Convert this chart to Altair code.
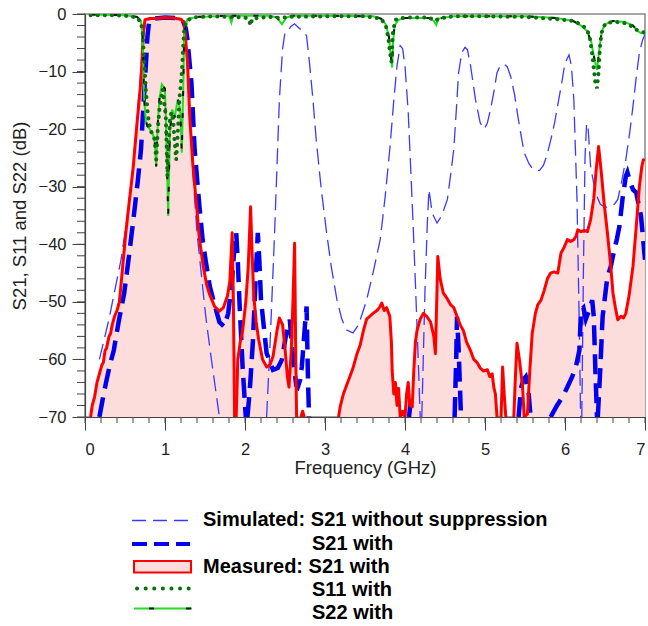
import altair as alt
import pandas as pd

# ---------------- data ----------------
# Measured S21 with suppression (red, filled)
meas_f = [0.07, 0.09, 0.12, 0.15, 0.18, 0.21, 0.23, 0.25, 0.27, 0.30, 0.32, 0.34, 0.37, 0.40, 0.43,
          0.47, 0.51, 0.55, 0.60, 0.65, 0.70, 0.73, 0.75, 0.80, 0.90, 1.00, 1.10, 1.20, 1.24, 1.28,
          1.31, 1.35, 1.39, 1.43, 1.48, 1.52, 1.56, 1.62, 1.68, 1.73, 1.78, 1.81, 1.84, 1.855, 1.87,
          1.89, 1.91, 1.94, 1.97, 2.01, 2.04, 2.07, 2.09, 2.11, 2.14, 2.17, 2.22, 2.27, 2.31, 2.35,
          2.40, 2.43, 2.47, 2.50, 2.53, 2.55, 2.58, 2.60, 2.62, 2.635, 2.645, 2.70, 2.72, 2.74, 3.17,
          3.19, 3.23, 3.27, 3.31, 3.35, 3.40, 3.44, 3.48, 3.52, 3.56, 3.60, 3.65, 3.68, 3.71, 3.74,
          3.77, 3.81, 3.83, 3.84, 3.86, 3.88, 3.90, 3.92, 3.94, 3.97, 4.00, 4.02, 4.04, 4.06, 4.09,
          4.11, 4.13, 4.15, 4.19, 4.23, 4.27, 4.32, 4.36, 4.38, 4.40, 4.41, 4.44, 4.48, 4.53, 4.57,
          4.61, 4.65, 4.69, 4.73, 4.77, 4.82, 4.86, 4.90, 4.94, 4.98, 5.03, 5.06, 5.09, 5.11, 5.13,
          5.15, 5.20, 5.21, 5.22, 5.24, 5.26, 5.36, 5.38, 5.40, 5.43, 5.47, 5.49, 5.53, 5.56, 5.59,
          5.63, 5.66, 5.70, 5.74, 5.78, 5.82, 5.86, 5.91, 5.95, 5.99, 6.03, 6.07, 6.11, 6.14, 6.16,
          6.20, 6.24, 6.28, 6.32, 6.36, 6.39, 6.42, 6.45, 6.49, 6.53, 6.57, 6.60, 6.63, 6.66, 6.70,
          6.73, 6.76, 6.80, 6.85, 6.89, 6.93, 6.96, 6.98, 7.00]
meas_db = [-70, -68, -66.5, -64, -62.5, -61, -60.5, -58.5, -58, -56, -55.5, -54, -52.5, -51.5, -50,
           -44, -38, -33, -27, -19, -11.5, -3, -1, -0.8, -0.8, -0.6, -0.7, -0.9, -1.5, -8,
           -18, -26.5, -32.5, -39, -44, -47, -48.8, -50.8, -51.6, -51, -49, -46.5, -38, -50, -70,
           -70, -60, -57, -55, -50, -44, -33.5, -42, -49, -53.5, -56.5, -60, -61.3, -61, -59.5,
           -55, -52.8, -54, -58, -63, -64.8, -58, -49.7, -39.8, -60, -70, -70, -69, -70, -70,
           -68.2, -66, -64.5, -63, -61.5, -59, -57.5, -55, -53, -52.5, -52, -51.5, -51, -50.2, -51.5,
           -51, -52.5, -57, -62, -66, -64, -68, -65, -70, -69, -70, -66, -64, -68, -68.2,
           -62, -57, -55, -53, -52, -52.5, -53.5, -56, -59, -48, -42.1, -46, -48.5, -49.5, -50.5,
           -51, -52.5, -54, -55, -57, -58.5, -60, -60.5, -61.5, -62, -61.8, -63, -62.5, -64.8, -66,
           -70, -70, -66, -61.3, -66, -70, -70, -63, -57.2, -60, -64.8, -70, -69.5, -62, -55.5,
           -52, -50.5, -49.7, -48, -46, -45, -44.8, -45, -41.5, -40.5, -39.2, -39.5, -39.2, -38.5, -37.5,
           -37.8, -37.6, -37.8, -35.7, -32, -27, -23, -27, -33, -38, -43.5, -48.5, -51, -53.1, -52.5,
           -52.8, -52, -49, -43.8, -37, -29.9, -26.5, -25.3, -25.5]

# Simulated S21 without suppression (thin dashed); None marks a break in the curve
sim0_f = [0.18, 0.24, 0.30, 0.38, 0.45, 0.52, 0.58, 0.64, 0.69, 0.73, 0.76, 0.85, 1.00, 1.15, 1.22,
          1.26, 1.30, 1.35, 1.40, 1.46, 1.51, 1.57, 1.64, 1.68, None,
          2.27, 2.31, 2.37, 2.43, 2.47, 2.50, 2.54, 2.57, 2.62, 2.68, 2.73, 2.77, 2.81, 2.85, 2.89,
          2.95, 3.02, 3.08, 3.15, 3.21, 3.27, 3.35, 3.42, 3.52, 3.60, 3.69, 3.75, 3.81, 3.86, 3.90,
          3.94, 3.97, 4.00, 4.04, 4.07, 4.10, 4.13, 4.16, 4.19, None,
          4.21, 4.25, 4.28, 4.30, 4.34, 4.40, 4.46, 4.53, 4.57, 4.61, 4.64, 4.67, 4.71, 4.75, 4.78,
          4.82, 4.88, 4.94, 4.99, 5.03, 5.07, 5.11, 5.15, 5.19, 5.24, 5.28, 5.32, 5.37, 5.41, 5.45,
          5.49, 5.55, 5.60, 5.68, 5.73, 5.77, 5.82, 5.87, 5.92, 5.96, 6.00, 6.05, 6.08, 6.11, 6.15,
          6.18, 6.195, None,
          6.21, 6.23, 6.25, 6.27, 6.29, 6.32, 6.38, 6.44, 6.50, 6.56, 6.62, 6.66, 6.71, 6.76, 6.81,
          6.85, 6.89, 6.93, 6.97, 7.00]
sim0_db = [-60, -56.5, -53, -47.5, -42.7, -36, -29, -20, -11, -4, -1.2, -0.8, -0.6, -0.8, -1.2,
           -5, -14, -28, -38, -46, -52.6, -59, -66, -70, None,
           -70, -58.4, -38, -14.8, -6, -3.2, -3.0, -2.2, -1.7, -2.5, -3.0, -3.8, -9, -15, -21.8,
           -30, -38, -44, -49.7, -53, -54.9, -55.4, -54, -49.7, -45, -39.2, -32, -23.5, -15, -9,
           -5.5, -6, -9, -17, -26.4, -36, -46.7, -58, -70, None,
           -70, -48, -36, -30.5, -34.6, -36.3, -35, -32.2, -28, -23.5, -17, -10.2, -6.7, -5.8, -6.2,
           -9, -14.8, -18.9, -20, -18.9, -16.5, -13.6, -10.2, -9, -8.7, -9.2, -10.8, -14, -17.7, -21,
           -24.1, -26, -27, -27.2, -26.3, -24.7, -22, -18.9, -15, -11.9, -8.5, -7.1, -9, -14.8, -32.2,
           -55.4, -70, None,
           -70, -45, -25, -19, -20, -26.5, -31, -33, -33.6, -33.5, -33, -32.2, -29, -25.3, -20.5,
           -16, -11, -6.7, -4.5, -3.5]

# Simulated S21 with suppression (thick dashed)
sim1_f = [0.18, 0.22, 0.26, 0.31, 0.36, 0.42, 0.49, 0.55, 0.61, 0.66, 0.70, 0.73, 0.76, 0.78, 0.80,
          0.85, 1.00, 1.15, 1.22, 1.26, 1.28, 1.33, 1.37, 1.43, 1.47, 1.51, 1.56, 1.62, 1.68, 1.74,
          1.79, 1.84, 1.87, 1.89, 1.91, 1.93, 1.97, 2.01, None,
          2.03, 2.06, 2.10, 2.14, 2.16, 2.18, 2.20, 2.27, 2.35, 2.41, 2.46, 2.51, 2.56, 2.59, 2.64,
          2.66, 2.69, 2.71, 2.75, 2.77, 2.785, 2.80, None,
          4.05, 4.07, 4.09, None,
          4.62, 4.64, 4.65, 4.67, 4.70, None,
          5.42, 5.45, 5.48, 5.51, 5.54, 5.57, None,
          5.82, 5.90, 5.97, 6.03, 6.09, 6.14, 6.18, 6.20, 6.23, 6.26, 6.30, 6.34, 6.36, 6.38, 6.40, None,
          6.41, 6.44, 6.47, 6.53, 6.57, 6.60, 6.65, 6.68, 6.72, 6.76, 6.78, 6.81, 6.85, 6.89, 6.95, 7.00]
sim1_db = [-70, -67, -64.2, -61, -58.4, -53.5, -48.5, -42, -35.1, -29, -23.5, -16, -9, -4, -1.5,
           -0.8, -0.6, -0.7, -1.0, -2.5, -4.4, -11.9, -23.5, -33.4, -39.2, -43, -47.3, -50.5, -53.5, -54.3,
           -52, -46, -40, -38, -43, -49.7, -61.3, -70, None,
           -70, -65.3, -56.6, -43.8, -38, -43, -49.7, -58.9, -61.8, -61.5, -60.1, -56, -53.1, -58.4, -64.5,
           -64.8, -63.5, -61.3, -54, -50.8, -62, -70, None,
           -70, -67.5, -70, None,
           -70, -60, -52.6, -58, -70, None,
           -70, -65, -63.5, -63, -65, -70, None,
           -70, -68, -66.5, -64.8, -63, -61, -58.4, -51.4, -51, -53, -51.5, -49.7, -52.6, -62, -70, None,
           -70, -62, -52.6, -45.6, -44, -42, -39, -36.9, -32, -28.2, -27.5, -29, -30.5, -31, -35.1, -42.7]

# Measured S11 with suppression (dotted)
s11_f = [0.07, 0.30, 0.50, 0.65, 0.70, 0.72, 0.74, 0.76, 0.78, 0.80, 0.83, 0.87, 0.89, 0.91, 0.93,
         0.97, 1.01, 1.03, 1.05, 1.06, 1.08, 1.10, 1.12, 1.14, 1.16, 1.18, 1.21, 1.23, 1.24, 1.27,
         1.35, 1.60, 1.80, 2.00, 2.05, 2.07, 2.09, 2.30, 2.45, 2.55, 3.00, 3.50, 3.70, 3.76, 3.79,
         3.81, 3.83, 3.85, 3.88, 4.00, 4.30, 4.38, 4.42, 4.60, 5.00, 5.50, 5.90, 6.10, 6.20, 6.27,
         6.31, 6.34, 6.36, 6.38, 6.40, 6.42, 6.44, 6.47, 6.52, 6.65, 6.75, 6.83, 6.90, 6.95, 7.00]
s11_db = [-0.2, -0.2, -0.3, -0.6, -1.5, -3.2, -8, -13, -16.6, -19, -20.5, -21.8, -25.3, -20, -16.6,
          -13.1, -17.7, -28.2, -22, -18.5, -17.1, -18, -22, -25.3, -20.6, -14.8, -10.2, -5, -2.6, -1.2,
          -0.6, -0.4, -0.5, -0.6, -1.0, -2.0, -0.8, -0.5, -0.7, -0.5, -0.4, -0.4, -0.8, -2, -4,
          -6.5, -8.3, -3, -1, -0.6, -0.6, -1.2, -0.8, -0.4, -0.4, -0.5, -0.9, -1.2, -1.8, -2.6,
          -4, -7, -9.5, -12, -12.9, -10, -5, -2.4, -1.5, -1.4, -1.6, -2.1, -2.8, -3.1, -3.2]

# Measured S22 with suppression (green solid with black dashes)
s22_f = [0.07, 0.50, 0.65, 0.70, 0.72, 0.73, 0.74, 0.76, 0.78, 0.81, 0.85, 0.87, 0.89, 0.91, 0.93,
         0.96, 1.00, 1.02, 1.04, 1.06, 1.09, 1.12, 1.16, 1.19, 1.21, 1.23, 1.24, 1.28, 1.40, 1.80,
         1.83, 1.85, 2.30, 2.40, 2.46, 2.52, 2.60, 3.00, 3.60, 3.70, 3.76, 3.80, 3.82, 3.84, 3.85,
         3.87, 3.92, 4.00, 4.30, 4.36, 4.39, 4.42, 4.60, 5.00, 5.50, 5.90, 6.10, 6.20, 6.28, 6.33,
         6.37, 6.40, 6.43, 6.46, 6.50, 6.60, 6.75, 6.85, 6.91, 6.95, 7.00]
s22_db = [-0.1, -0.2, -0.5, -1.2, -4, -9, -14.8, -18.5, -19.5, -20, -21, -21.8, -26.5, -19, -14.8,
          -12.2, -13, -23.5, -35.1, -20.7, -16.6, -18, -14.8, -16.6, -24.1, -11.6, -3.2, -0.9, -0.5, -0.3,
          -1.5, -0.3, -0.3, -0.6, -1.8, -0.6, -0.3, -0.3, -0.4, -0.8, -1.8, -4, -7, -9.3, -5,
          -2, -1, -0.7, -0.7, -1.2, -1.9, -0.8, -0.4, -0.4, -0.4, -0.7, -1.2, -2, -3, -5,
          -8, -9.7, -6, -3, -1.8, -1.2, -1.4, -2, -3, -3.3, -3.4]

x_major = [0, 1, 2, 3, 4, 5, 6, 7]
x_minor = [round(0.2 * i, 1) for i in range(36)]
y_major = [-70, -60, -50, -40, -30, -20, -10, 0]
y_minor = [-70 + 2 * i for i in range(36)]

legend_labels = ["Simulated: S21 without suppression", "S21 with", "Measured: S21 with",
                 "S11 with", "S22 with"]

# ---------------- helpers ----------------
FONT = "Liberation Sans"
W, H = 560, 403
FLOOR = -70


def segmented(fs, dbs):
    rows, s = [], 0
    for f, d in zip(fs, dbs):
        if f is None or d is None:
            s += 1
            continue
        rows.append({"f": f, "db": d, "seg": s})
    return pd.DataFrame(rows)


def break_at_floor(fs, dbs):
    # the measured trace is hidden where it lies on the -70 dB floor
    rows, s, prev = [], 0, None
    for f, d in zip(fs, dbs):
        if prev is not None and prev <= FLOOR and d <= FLOOR:
            s += 1
        rows.append({"f": f, "db": d, "seg": s})
        prev = d
    return pd.DataFrame(rows)


xs = alt.Scale(domain=[0, 7], nice=False, zero=False)
ys = alt.Scale(domain=[-70, 0], nice=False, zero=False)

meas = pd.DataFrame({"f": meas_f, "db": meas_db, "base": [FLOOR] * len(meas_f)})
meas_line = break_at_floor(meas_f, meas_db)
sim0 = segmented(sim0_f, sim0_db)
sim1 = segmented(sim1_f, sim1_db)
s11 = pd.DataFrame({"f": s11_f, "db": s11_db})
s22 = pd.DataFrame({"f": s22_f, "db": s22_db})

X = alt.X("f:Q", scale=xs,
          axis=alt.Axis(values=x_major, format="d", tickSize=13, labelPadding=11,
                        title="Frequency (GHz)", titlePadding=1, grid=False))
Y = alt.Y("db:Q", scale=ys,
          axis=alt.Axis(values=y_major, tickSize=13, labelPadding=6,
                        title="S21, S11 and S22 (dB)", titlePadding=9, grid=False))

area = alt.Chart(meas).mark_area(color="#fddcdc", clip=True).encode(
    x=X, y=Y, y2="base:Q")

thin = alt.Chart(sim0).mark_line(color="#3a3aff", strokeWidth=1.3, strokeDash=[16, 7],
                                 clip=True).encode(x="f:Q", y="db:Q", detail="seg:N")
thick = alt.Chart(sim1).mark_line(color="#0000ee", strokeWidth=4.5, strokeDash=[20, 9],
                                  clip=True).encode(x="f:Q", y="db:Q", detail="seg:N")
red = alt.Chart(meas_line).mark_line(color="#ff0000", strokeWidth=3, strokeJoin="round",
                                     clip=True).encode(x="f:Q", y="db:Q", detail="seg:N")
g22 = alt.Chart(s22).mark_line(color="#22dd22", strokeWidth=2, clip=True).encode(x="f:Q", y="db:Q")
k22 = alt.Chart(s22).mark_line(color="#111111", strokeWidth=2, strokeDash=[5, 17],
                               clip=True).encode(x="f:Q", y="db:Q")
d11 = alt.Chart(s11).mark_line(color="#0b700b", strokeWidth=4, strokeDash=[0.1, 7],
                               strokeCap="round", clip=True).encode(x="f:Q", y="db:Q")

# minor ticks
xminor = alt.Chart(pd.DataFrame({"t": x_minor})).mark_rule(color="#444", strokeWidth=1).encode(
    x="t:Q", y=alt.value(H), y2=alt.value(H + 6))
yminor = alt.Chart(pd.DataFrame({"t": y_minor})).mark_rule(color="#444", strokeWidth=1).encode(
    y="t:Q", x=alt.value(0), x2=alt.value(-8))

# legend (drawn below the plot)
one = pd.DataFrame({"k": [0]})
OX, OY = 85, 14


def lx(px):
    return px - OX


def ly(py):
    return py - OY


leg = [
    alt.Chart(one).mark_rule(color="#3a3aff", strokeWidth=1.3, strokeDash=[14, 7]).encode(
        x=alt.value(lx(132)), x2=alt.value(lx(189)), y=alt.value(ly(520.5))),
    alt.Chart(one).mark_rule(color="#0000ee", strokeWidth=4, strokeDash=[15, 7]).encode(
        x=alt.value(lx(132)), x2=alt.value(lx(190)), y=alt.value(ly(544))),
    alt.Chart(one).mark_rect(fill="#fddcdc", stroke="#ff0000", strokeWidth=2).encode(
        x=alt.value(lx(134)), x2=alt.value(lx(191)), y=alt.value(ly(561)), y2=alt.value(ly(572.5))),
    alt.Chart(one).mark_rule(color="#0b700b", strokeWidth=4, strokeDash=[0.1, 8.5],
                             strokeCap="round").encode(
        x=alt.value(lx(137)), x2=alt.value(lx(190)), y=alt.value(ly(588.5))),
    alt.Chart(one).mark_rule(color="#22dd22", strokeWidth=2).encode(
        x=alt.value(lx(134)), x2=alt.value(lx(192)), y=alt.value(ly(608.5))),
    alt.Chart(one).mark_rule(color="#111111", strokeWidth=2, strokeDash=[0, 15, 5, 17]).encode(
        x=alt.value(lx(134)), x2=alt.value(lx(192)), y=alt.value(ly(608.5))),
]
text_pos = [(203, 520), (312, 543.5), (203, 566.5), (312, 589.5), (312, 612.5)]
for lab, (tx, ty) in zip(legend_labels, text_pos):
    leg.append(alt.Chart(pd.DataFrame({"label": [lab]})).mark_text(
        align="left", baseline="middle", font=FONT, fontSize=20, fontWeight="bold",
        color="#000000").encode(text="label:N", x=alt.value(lx(tx)), y=alt.value(ly(ty))))

chart = alt.layer(area, thin, thick, red, g22, k22, d11, xminor, yminor, *leg).properties(
    width=W, height=H,
    padding={"left": OX, "top": OY, "right": 648 - OX - W, "bottom": 626 - OY - H},
    autosize=alt.AutoSizeParams(type="none"),
).configure_view(
    stroke="#888888", strokeWidth=1.5
).configure_axis(
    labelFont=FONT, titleFont=FONT, labelFontSize=16.5, titleFontSize=18.5,
    titleFontWeight="normal", labelColor="#222", titleColor="#222",
    domainColor="#444", tickColor="#444", domainWidth=1.2, tickWidth=1
)

chart.save("out.html", embed_options={"renderer": "svg", "actions": False})
